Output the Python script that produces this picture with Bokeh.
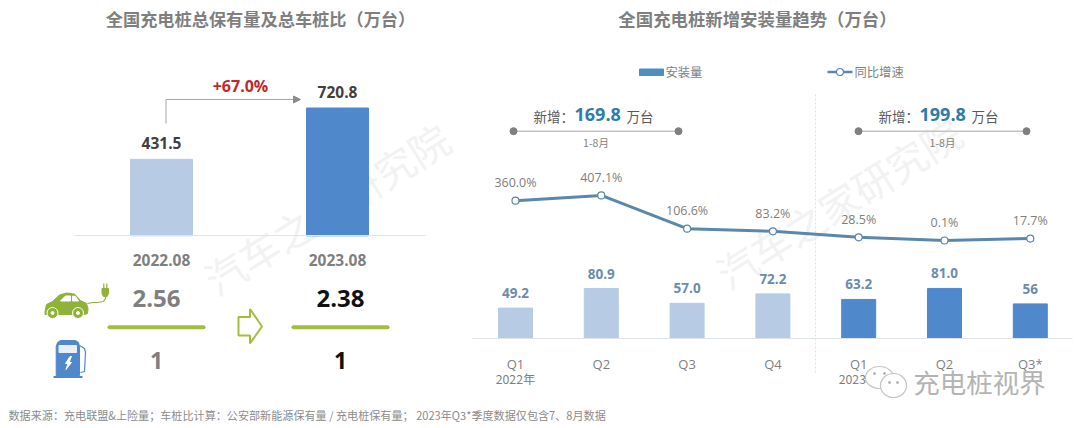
from bokeh.plotting import figure
from bokeh.models import Range1d, LinearAxis, FixedTicker
from bokeh.core.properties import value
from bokeh.embed import file_html
from bokeh.resources import INLINE

# ---- data ----
total_periods = ["2022.08", "2023.08"]
total_values = [431.5, 720.8]
ratio_cars = ["2.56", "2.38"]
ratio_piles = ["1", "1"]
growth_label = "+67.0%"

quarters = ["Q1", "Q2", "Q3", "Q4", "Q1", "Q2", "Q3*"]
installs = [49.2, 80.9, 57.0, 72.2, 63.2, 81.0, 56]
install_labels = ["49.2", "80.9", "57.0", "72.2", "63.2", "81.0", "56"]
growth = [360.0, 407.1, 106.6, 83.2, 28.5, 0.1, 17.7]
growth_labels = ["360.0%", "407.1%", "106.6%", "83.2%", "28.5%", "0.1%", "17.7%"]

CJK = "Noto Sans CJK SC"
NUM = "Open Sans"
LIGHT = "#b7cce4"
DARK = "#5088cc"
GREEN = "#a3bd3f"
ICON_GREEN = "#8fb339"
W, H = 1080, 428

p = figure(width=W, height=H, output_backend="svg", toolbar_location=None,
           x_range=Range1d(0, W), y_range=Range1d(H, 0),
           x_axis_type=None, y_axis_type=None, min_border=0,
           background_fill_color="white", border_fill_color="white")
p.outline_line_color = None
p.grid.visible = False

# scales for the data, expressed through their own ranges
def xr(origin, step):
    return Range1d((0 - origin) / step, (W - origin) / step)
def yr(base, k):
    return Range1d((base - H) / k, (base - 0) / k)
p.extra_x_ranges = {"left": xr(161, 176), "right": xr(515, 85.8)}
p.extra_y_ranges = {"total": yr(235.3, 0.1773), "inst": yr(338, 0.618), "gr": yr(240, 0.1106)}


def txt(x, y, s, size, color, font=CJK, bold=False, align="center", angle=0, alpha=1.0):
    p.text([x], [y], text=[s], text_font=value(font), text_font_size=f"{size}px",
           text_color=color, text_align=align, text_baseline="middle",
           text_font_style="bold" if bold else "normal", angle=angle, text_alpha=alpha)

# ---- watermarks (lowest layer) ----
for cx, cy in [(326, 208), (838, 202)]:
    txt(cx, cy, "汽车之家研究院", 40, "#f2f2f2", angle=0.56)

# ---- titles ----
txt(260, 18, "全国充电桩总保有量及总车桩比（万台）", 17.2, "#7f7f7f", bold=True)
txt(757, 18, "全国充电桩新增安装量趋势（万台）", 17.4, "#7f7f7f", bold=True)

# ---- left bars ----
li = list(range(len(total_values)))
p.vbar(x=li, top=total_values, bottom=0, width=62 / 176, color=[LIGHT, DARK],
       x_range_name="left", y_range_name="total")
ax = LinearAxis(x_range_name="left", fixed_location=235.3, ticker=FixedTicker(ticks=li),
                major_label_overrides={i: s for i, s in zip(li, total_periods)},
                axis_line_color="#dfe3ea", axis_line_width=1, major_tick_line_color=None,
                minor_tick_line_color=None, major_label_standoff=12,
                major_label_text_font=NUM, major_label_text_font_style="bold",
                major_label_text_font_size="15.5px", major_label_text_color="#7f7f7f",
                bounds=((74 - 161) / 176, (425 - 161) / 176))
p.add_layout(ax, "below")
p.text(li, total_values, text=[f"{v:.1f}" for v in total_values], x_range_name="left",
       y_range_name="total", text_font=value(NUM), text_font_style="bold", text_font_size="15.5px",
       text_color="#404040", text_align="center", text_baseline="middle", y_offset=-16)

# growth arrow
p.line([165.5, 165.5, 294], [123, 99, 99], line_color="#a6a6a6", line_width=1)
p.patch([293, 300, 293], [95.5, 99, 102.5], color="#8c8c8c")
txt(240, 85, growth_label, 16, "#c0272d", font=NUM, bold=True)

# ratio block
for cx, car, pile, col in zip([156, 340], ratio_cars, ratio_piles, ["#7f7f7f", "#111111"]):
    txt(cx, 298, car, 24, col, font=NUM, bold=True)
    txt(cx, 360, pile, 23, "#7f7f7f" if col != "#111111" else "#111111", font=NUM, bold=True)
    p.line([cx - 47, cx + 47], [326.7, 326.7], line_color=GREEN, line_width=4, line_cap="round")

# hollow arrow
p.patch([238, 249.5, 249.5, 261.5, 249.5, 249.5, 238], [316.5, 316.5, 308.5, 326, 343, 335, 335],
        fill_color="white", line_color=GREEN, line_width=2)

# car icon
p.patch([44.5, 46, 52, 59, 66, 74, 80, 86, 87.5, 87, 84, 44.5],
        [311, 304, 301, 294.5, 292.5, 293.5, 300, 303, 308, 313, 314, 314], color=ICON_GREEN)
p.patch([60, 65, 70, 70], [300.5, 295.5, 295.5, 300.5], color="white")
p.patch([72, 75, 78, 72], [295.5, 296, 300.5, 300.5], color="white")
for wx in (52, 77.5):
    p.scatter([wx], [312.5], size=11, fill_color=ICON_GREEN, line_color="white", line_width=1)
    p.scatter([wx], [312.5], size=3, color="white")
p.line([87, 92, 97, 103, 105, 105], [303, 302, 302, 301, 298, 294], line_color=ICON_GREEN, line_width=1.2)
p.patch([101.5, 108, 108, 106.5, 103, 101.5], [288, 288, 293, 296, 296, 293], color=ICON_GREEN)
p.line([103.3, 103.3], [283, 288], line_color=ICON_GREEN, line_width=1.2)
p.line([106.3, 106.3], [283, 288], line_color=ICON_GREEN, line_width=1.2)

# pump icon
PUMP = "#5088cc"
p.patch([55.7, 57, 60, 75, 78, 79, 79, 55.7], [346, 342, 340, 340, 342, 346, 375, 375], color=PUMP)
p.patch([58.5, 76, 76, 58.5], [345, 345, 352, 352], color="#e8eff8")
p.patch([69.5, 65, 67.5, 65.5, 71, 68.5, 71], [356, 363, 363, 369, 362, 362, 356], color="white")
p.line([53, 82], [376.5, 376.5], line_color=PUMP, line_width=2)
p.line([79, 84, 85, 84, 80], [345, 348, 352, 371, 372], line_color=PUMP, line_width=1.2)

# ---- right: legend ----
p.patch([639, 663, 663, 639], [68.5, 68.5, 75, 75], color="#4d8fbf")
txt(665, 71.5, "安装量", 12.3, "#7f7f7f", align="left")
p.line([827, 852], [71.5, 71.5], line_color="#5b87ae", line_width=2.5)
p.scatter([839.5], [71.5], size=7, fill_color="white", line_color="#5b87ae", line_width=1.2)
txt(854, 71.5, "同比增速", 12.3, "#7f7f7f", align="left")

# divider
p.line([815, 815], [94, 372], line_color="#e2e2e2", line_width=1, line_dash="2 2")

# period callouts
for x0, x1, tx, total in [(513, 678, 533, "169.8"), (858, 1026, 878, "199.8")]:
    txt(tx, 115, "新增：", 13.5, "#595959", align="left")
    txt(tx + 41, 114, total, 18, "#2e7ca8", font=NUM, bold=True, align="left")
    txt(tx + 93, 115, "万台", 13.5, "#595959", align="left")
    p.line([x0, x1], [130.7, 130.7], line_color="#c4c4c4", line_width=1.5)
    p.scatter([x0, x1], [130.7, 130.7], size=7, color="#7f7f7f")
    txt((x0 + x1) / 2, 142, "1-8月", 10.5, "#7f7f7f")

# ---- right: bars, axis, line ----
ri = list(range(len(installs)))
p.vbar(x=ri, top=installs, bottom=0, width=34 / 85.8, color=[LIGHT] * 4 + [DARK] * 3,
       x_range_name="right", y_range_name="inst")
ax2 = LinearAxis(x_range_name="right", fixed_location=338, ticker=FixedTicker(ticks=ri),
                 major_label_overrides={i: s for i, s in zip(ri, quarters)},
                 axis_line_color="#dfe3ea", axis_line_width=1, major_tick_line_color=None,
                 minor_tick_line_color=None, major_label_standoff=10,
                 major_label_text_font=NUM, major_label_text_font_size="13px",
                 major_label_text_color="#7f7f7f",
                 bounds=((472 - 515) / 85.8, (1072 - 515) / 85.8))
p.add_layout(ax2, "below")
p.text(ri, installs, text=install_labels, x_range_name="right", y_range_name="inst",
       text_font=value(NUM), text_font_style="bold", text_font_size="13.5px", text_color="#6c8cab",
       text_align="center", text_baseline="middle", y_offset=-15)
p.line(ri, growth, x_range_name="right", y_range_name="gr", line_color="#5b87ae", line_width=3)
p.scatter(ri, growth, x_range_name="right", y_range_name="gr", size=7, fill_color="white",
          line_color="#5b87ae", line_width=1.2)
p.text(ri, growth, text=growth_labels, x_range_name="right", y_range_name="gr",
       text_font=value(NUM), text_font_size="12.5px", text_color="#808080",
       text_align="center", text_baseline="middle", y_offset=-18)

txt(515, 378, "2022年", 12.3, "#7f7f7f")
txt(858, 378, "2023年", 12.3, "#7f7f7f")

# ---- footer ----
txt(8, 414, "数据来源：充电联盟&上险量；车桩比计算：公安部新能源保有量 / 充电桩保有量； 2023年Q3*季度数据仅包含7、8月数据",
    11.1, "#8c8c8c", align="left")

# ---- account mark ----
p.ellipse([879], [377], width=28, height=22, fill_color="white", line_color="#c4c4c4", line_width=1.2)
p.ellipse([893], [385], width=26, height=24, fill_color="white", line_color="#c4c4c4", line_width=1.2)
p.scatter([874, 884, 889, 897], [373, 373, 382, 382], size=2, color="#b0b0b0")
txt(979, 381, "充电桩视界", 26.5, "#b4b4b4")

open("out.html", "w").write(file_html(p, INLINE))
